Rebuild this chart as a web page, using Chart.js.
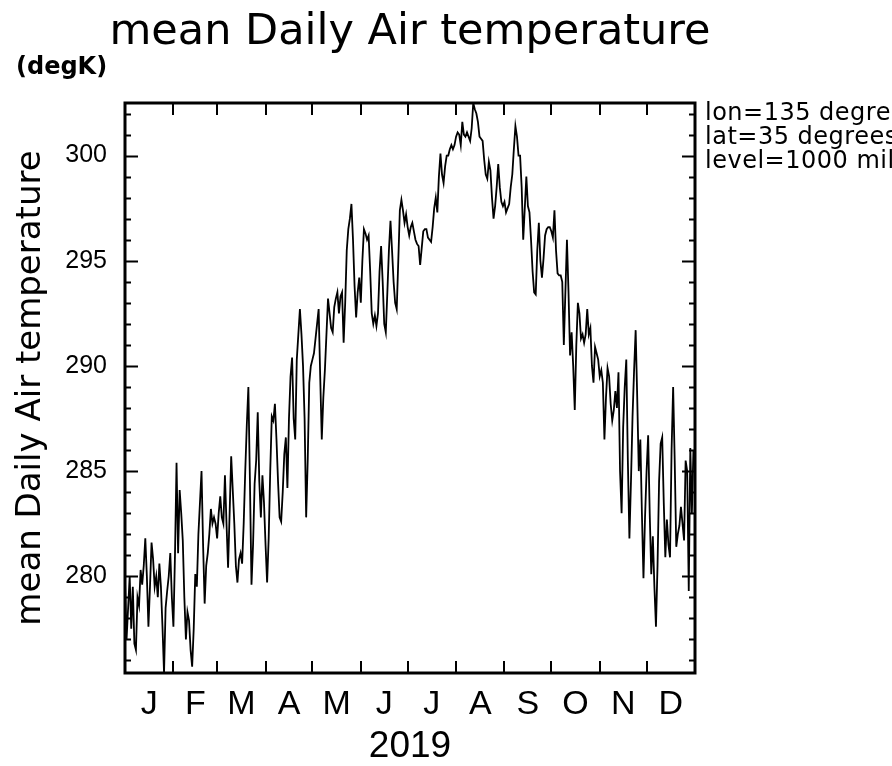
<!DOCTYPE html>
<html>
<head>
<meta charset="utf-8">
<script src="https://cdn.jsdelivr.net/npm/chart.js@4.4.1/dist/chart.umd.min.js"></script>
<style>
  html, body { margin: 0; padding: 0; background: #fff; }
  #wrap { width: 892px; height: 766px; }
</style>
</head>
<body>
<div id="wrap"><canvas id="tempChart" width="892" height="766"></canvas></div>
<script>
// daily mean air temperature (degK), 2019, one array per month
const jan = [279.8, 277.0, 278.5, 280.0, 277.5, 279.5, 276.8, 276.5, 279.0, 278.6,
  280.3, 279.6, 280.5, 281.8, 280.0, 277.6, 279.5, 281.6, 280.8, 279.5,
  280.0, 279.0, 280.6, 279.5, 277.6, 275.4, 278.5, 279.3, 280.0, 281.1, 279.0];
const feb = [277.6, 281.0, 285.4, 281.1, 284.1, 283.0, 281.7, 279.0, 277.0, 278.3,
  277.9, 276.5, 275.7, 277.5, 280.1, 279.5, 282.0, 283.5, 285.0, 281.5,
  278.7, 280.5, 281.1, 282.0, 283.2, 282.5, 282.8, 282.5];
const mar = [281.8, 283.0, 283.8, 282.8, 282.5, 284.8, 282.5, 280.4, 283.0, 285.7,
  284.1, 282.5, 280.5, 279.7, 280.8, 281.1, 280.6, 282.5, 285.0, 287.2,
  289.0, 284.5, 279.6, 281.5, 284.4, 285.5, 287.8, 284.5, 282.8, 284.8, 283.5];
const apr = [281.5, 279.7, 281.8, 285.0, 287.6, 287.4, 288.2, 286.5, 284.5, 282.8,
  282.6, 284.0, 285.8, 286.6, 284.2, 287.5, 289.5, 290.4, 287.5, 286.5,
  290.3, 291.5, 292.7, 291.5, 290.0, 287.5, 282.8, 285.5, 289.2, 290.0];
const may = [290.3, 290.6, 291.3, 292.0, 292.7, 289.5, 286.5, 288.5, 289.8, 291.5,
  293.2, 292.5, 291.8, 291.6, 292.8, 293.2, 293.5, 292.5, 293.3, 293.5,
  291.1, 293.0, 295.5, 296.5, 297.0, 297.7, 296.0, 293.8, 292.3, 293.5, 294.2];
const jun = [293.0, 295.0, 296.5, 296.3, 296.0, 296.2, 294.5, 292.5, 292.0, 292.4,
  291.9, 292.5, 294.5, 295.7, 294.0, 292.0, 291.6, 293.5, 295.5, 296.9,
  295.5, 294.0, 293.0, 292.7, 295.0, 297.4, 297.9, 297.4, 296.8, 297.2];
const jul = [296.6, 296.2, 296.6, 296.8, 296.4, 296.0, 295.8, 295.7, 294.8, 295.6,
  296.4, 296.5, 296.5, 296.1, 296.0, 295.9, 296.6, 297.5, 298.0, 297.3,
  299.0, 300.1, 299.1, 298.7, 299.5, 300.0, 300.0, 300.3, 300.5, 300.3, 300.5];
const aug = [300.9, 301.1, 301.0, 300.5, 301.6, 301.0, 300.9, 301.1, 300.9, 300.7,
  301.3, 302.5, 302.2, 302.0, 301.6, 300.9, 300.8, 300.7, 299.8, 299.1,
  298.9, 299.7, 299.3, 298.0, 297.0, 297.6, 298.5, 299.6, 298.5, 297.8, 297.6];
const sep = [297.8, 297.3, 297.5, 297.7, 298.5, 299.1, 300.3, 301.4, 300.9, 300.0,
  300.0, 298.5, 296.0, 297.5, 299.0, 297.6, 297.3, 296.0, 294.5, 293.5,
  293.4, 295.5, 296.8, 295.0, 294.2, 295.1, 296.2, 296.5, 296.6, 296.6];
const oct = [296.4, 296.1, 297.4, 295.5, 294.4, 294.3, 294.3, 294.0, 291.0, 293.5,
  296.0, 293.5, 290.5, 291.6, 290.0, 287.9, 291.0, 293.0, 292.5, 291.3,
  291.5, 291.1, 291.5, 292.7, 291.5, 291.8, 290.0, 289.2, 290.9, 290.6, 290.3];
const nov = [289.5, 289.8, 289.2, 286.5, 288.5, 289.9, 289.5, 288.2, 287.4, 287.9,
  288.8, 288.0, 289.7, 285.0, 283.0, 287.1, 289.0, 290.3, 285.5, 281.8,
  284.5, 287.6, 289.8, 291.7, 288.5, 285.0, 286.5, 283.0, 279.9, 282.8];
const dec = [285.0, 286.7, 283.0, 280.1, 281.9, 279.5, 277.6, 280.5, 284.5, 286.3,
  286.6, 283.5, 280.9, 282.7, 281.5, 280.9, 286.0, 289.0, 285.5, 281.4,
  282.0, 282.4, 283.3, 282.5, 281.7, 285.5, 285.0, 279.3, 286.1, 283.0, 286.0];

const monthLabels = ['J', 'F', 'M', 'A', 'M', 'J', 'J', 'A', 'S', 'O', 'N', 'D'];
const monthStarts = [0, 31, 59, 90, 120, 151, 181, 212, 243, 273, 304, 334, 365];
const yTicks = [280, 285, 290, 295, 300];
const yMin = 275.4;
const yMax = 302.5;
const infoLines = ['lon=135 degre', 'lat=35 degrees', 'level=1000 mil'];

const temps = [...jan, ...feb, ...mar, ...apr, ...may, ...jun,
  ...jul, ...aug, ...sep, ...oct, ...nov, ...dec];
const points = temps.map((t, d) => ({ x: d, y: t }));
const monthMid = monthLabels.map((m, i) => (monthStarts[i] + monthStarts[i + 1]) / 2);

// frame, inward ticks and the free texts (GrADS look)
const gradsDecor = {
  id: 'gradsDecor',
  afterDraw(chart) {
    const { ctx, chartArea: a, scales } = chart;
    const x = scales.x, y = scales.y;
    ctx.save();
    ctx.strokeStyle = '#000';
    ctx.lineWidth = 2;
    ctx.beginPath();
    // left / right: major every 5 K, minor every 1 K
    for (let v = Math.ceil(yMin); v <= yMax; v++) {
      const py = Math.round(y.getPixelForValue(v)) + 0.5;
      const len = yTicks.includes(v) ? 13 : 6;
      ctx.moveTo(a.left, py); ctx.lineTo(a.left + len, py);
      ctx.moveTo(a.right, py); ctx.lineTo(a.right - len, py);
    }
    // top / bottom: month boundaries
    monthStarts.slice(1, -1).forEach(m => {
      const px = Math.round(x.getPixelForValue(m));
      ctx.moveTo(px, a.bottom); ctx.lineTo(px, a.bottom - 12);
      ctx.moveTo(px, a.top); ctx.lineTo(px, a.top + 12);
    });
    ctx.stroke();

    ctx.lineWidth = 3;
    ctx.strokeRect(a.left, a.top, a.right - a.left, a.bottom - a.top);

    ctx.fillStyle = '#000';
    ctx.textBaseline = 'alphabetic';
    ctx.textAlign = 'center';
    ctx.font = '43px "DejaVu Sans"';
    ctx.fillText('mean Daily Air temperature', 410, 44);

    ctx.textAlign = 'left';
    ctx.font = 'bold 24px "DejaVu Sans"';
    ctx.fillText('(degK)', 16, 74);

    ctx.font = '24px "DejaVu Sans"';
    ctx.letterSpacing = '0.5px';
    infoLines.forEach((t, i) => ctx.fillText(t, 705, 120 + i * 24));
    ctx.restore();
  }
};

new Chart(document.getElementById('tempChart'), {
  type: 'line',
  data: {
    datasets: [{
      data: points,
      borderColor: '#000',
      borderWidth: 1.8,
      pointRadius: 0,
      tension: 0,
      fill: false,
    }]
  },
  options: {
    responsive: false,
    animation: false,
    devicePixelRatio: 1,
    layout: { padding: { top: 103, right: 197, left: 0, bottom: 0 } },
    plugins: {
      legend: { display: false },
      tooltip: { enabled: false },
    },
    scales: {
      x: {
        type: 'linear',
        min: 0,
        max: 365,
        grid: { display: false, drawTicks: false },
        border: { display: false },
        afterBuildTicks: s => { s.ticks = monthMid.map(v => ({ value: v })); },
        afterFit: s => { s.height = 93; },
        ticks: {
          autoSkip: false,
          maxRotation: 0,
          padding: 11,
          color: '#000',
          font: { family: 'Liberation Sans', size: 34 },
          callback: (v, i) => monthLabels[i],
        },
        title: {
          display: true,
          text: '2019',
          color: '#000',
          font: { family: 'Liberation Sans', size: 37, lineHeight: 1 },
          padding: { top: 0, bottom: 1 },
        }
      },
      y: {
        min: yMin,
        max: yMax,
        grid: { display: false, drawTicks: false },
        border: { display: false },
        afterBuildTicks: s => { s.ticks = yTicks.map(v => ({ value: v })); },
        afterFit: s => { s.width = 125; },
        ticks: {
          padding: 18,
          color: '#000',
          font: { family: 'Liberation Sans', size: 25 },
        },
        title: {
          display: true,
          text: 'mean Daily Air temperature',
          color: '#000',
          font: { family: 'DejaVu Sans', size: 34 },
          padding: { top: 11, bottom: 0 },
        }
      }
    }
  },
  plugins: [gradsDecor]
});
</script>
</body>
</html>
